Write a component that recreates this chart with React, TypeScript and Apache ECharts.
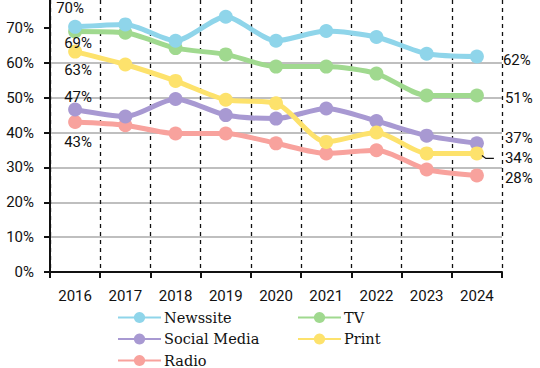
import React, { useEffect, useRef } from "react";
import * as echarts from "echarts";

const years = ["2016", "2017", "2018", "2019", "2020", "2021", "2022", "2023", "2024"];
const newssite = [70.3, 71.0, 66.3, 73.2, 66.3, 69.1, 67.4, 62.6, 61.8];
const tv = [69.0, 68.6, 64.2, 62.4, 58.9, 58.9, 56.9, 50.6, 50.6];
const print = [63.2, 59.5, 54.8, 49.4, 48.4, 37.3, 40.0, 34.0, 34.0];
const socialMedia = [46.6, 44.6, 49.6, 45.0, 44.0, 46.9, 43.3, 39.1, 36.9];
const radio = [43.0, 42.1, 39.7, 39.7, 36.9, 34.0, 34.9, 29.4, 27.7];
const yTicks = [0, 10, 20, 30, 40, 50, 60, 70];

const names = ["Newssite", "TV", "Print", "Social Media", "Radio"];
const colors = ["#8fd5ea", "#a0d98f", "#fde26c", "#a899d2", "#f8a29d"];
const seriesData = [newssite, tv, print, socialMedia, radio];

const startLabel = [
  { position: "top", offset: [-5, 1] },
  { position: "bottom", offset: [3, -8] },
  { position: "bottom", offset: [3, -1] },
  { position: "top", offset: [3, 7] },
  { position: "bottom", offset: [3, 0] },
];
const endLabel = [
  { position: "right", offset: [14, 4] },
  { position: "right", offset: [16, 2] },
  { position: "right", offset: [16, 5] },
  { position: "right", offset: [16, -5] },
  { position: "right", offset: [16, 3] },
];

const FONT = "Roboto";
const FS = 15;

export default function App() {
  const ref = useRef<HTMLDivElement>(null);
  useEffect(() => {
    const chart = echarts.init(ref.current!, null, { renderer: "svg" });
    const series = seriesData.map((arr, si) => ({
      type: "line",
      name: names[si],
      smooth: 0.25,
      symbol: "circle",
      symbolSize: 14,
      lineStyle: { width: 5, color: colors[si] },
      itemStyle: { color: colors[si] },
      z: 10 - si,
      data: arr.map((v, i) => {
        const lab = i === 0 ? startLabel[si] : i === arr.length - 1 ? endLabel[si] : null;
        if (!lab) return v;
        return {
          value: v,
          label: {
            show: true,
            position: lab.position,
            offset: lab.offset,
            formatter: () => Math.round(v) + "%",
            color: "#111",
            fontSize: FS,
            fontFamily: FONT,
          },
        };
      }),
    }));

    const legendCommon = {
      orient: "vertical",
      top: 310,
      height: 58,
      padding: 0,
      itemWidth: 43,
      itemHeight: 14,
      itemGap: 6.5,
      textStyle: { fontFamily: "DejaVu Serif", fontSize: 14.5, color: "#111", padding: [0, 0, 0, -2] },
    };

    chart.setOption({
      animation: false,
      grid: { left: 50, right: 38, top: 0, bottom: 96, containLabel: false },
      legend: [
        { ...legendCommon, data: ["Newssite", "Social Media", "Radio"], left: 117 },
        { ...legendCommon, data: ["TV", "Print"], left: 297 },
      ],
      xAxis: {
        type: "category",
        data: years,
        boundaryGap: true,
        axisLine: { lineStyle: { color: "#111", width: 2 } },
        axisTick: { show: true, length: 6, lineStyle: { color: "#111", width: 2 } },
        axisLabel: { color: "#111", fontSize: FS, fontFamily: FONT, margin: 16 },
        splitLine: { show: true, lineStyle: { color: "#111", type: [4, 4], width: 1.3 } },
      },
      yAxis: {
        type: "value",
        min: 0,
        max: 78,
        interval: 10,
        axisLine: { show: true, lineStyle: { color: "#111", width: 2 } },
        axisTick: { show: true, length: 6, customValues: yTicks, lineStyle: { color: "#111", width: 2 } },
        axisLabel: {
          customValues: yTicks,
          color: "#111",
          fontSize: FS,
          fontFamily: FONT,
          margin: 16,
          formatter: (v: number) => v + "%",
        },
        splitLine: { show: true, showMaxLine: false, lineStyle: { color: "#aaa", width: 1.5 } },
      },
      series,
    });

    // leader line for the Print end label
    const last = years.length - 1;
    const p = chart.convertToPixel({ seriesIndex: 2 }, [last, print[last]]) as number[];
    chart.setOption({
      graphic: [
        {
          type: "polyline",
          z: 100,
          shape: { points: [[p[0] + 5, p[1] + 2], [p[0] + 9, p[1] + 5], [p[0] + 17, p[1] + 5]] },
          style: { stroke: "#111", lineWidth: 1.2, fill: "none" },
        },
      ],
    });
    return () => chart.dispose();
  }, []);
  return (
    <div
      ref={ref}
      style={{ position: "fixed", left: 0, top: 0, width: 540, height: 368, background: "#fff" }}
    />
  );
}
